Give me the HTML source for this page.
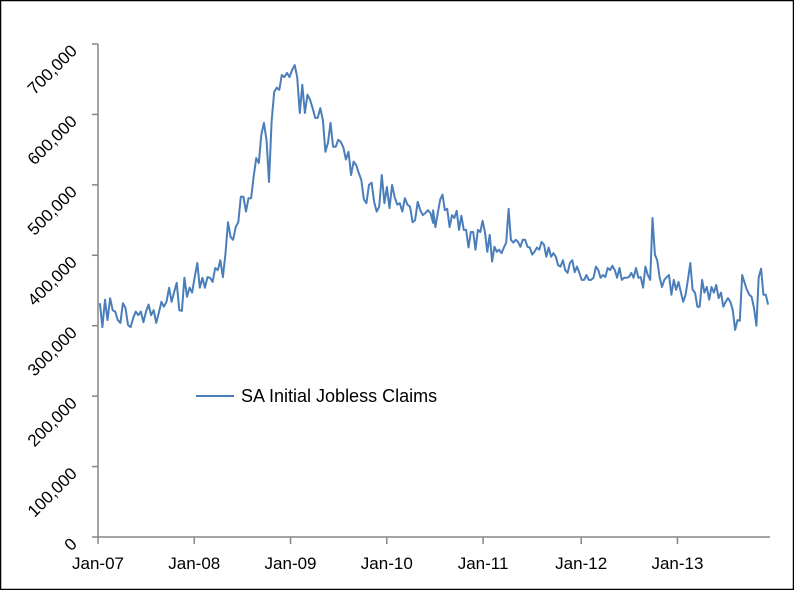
<!DOCTYPE html>
<html><head><meta charset="utf-8"><style>
html,body{margin:0;padding:0;background:#fff}
svg{display:block}
text{font-family:"Liberation Sans",sans-serif;fill:#000}
</style></head><body>
<svg width="794" height="590" viewBox="0 0 794 590">
<rect x="0.5" y="0.5" width="793" height="589" fill="#fff" stroke="#000" stroke-width="1.5"/>
<g id="axes"></g>
<path id="series" fill="none" stroke="#4a7ebb" stroke-width="2" stroke-linejoin="round"/>
<g>
<line x1="196" y1="396" x2="234" y2="396" stroke="#4a7ebb" stroke-width="2"/>
<text x="241" y="402" font-size="18">SA Initial Jobless Claims</text>
</g>
</svg>
<script>
const yTicks=[0,100000,200000,300000,400000,500000,600000,700000];
const yTickLabels=["0","100,000","200,000","300,000","400,000","500,000","600,000","700,000"];
const xTickLabels=["Jan-07","Jan-08","Jan-09","Jan-10","Jan-11","Jan-12","Jan-13"];
const xTickWeeks=[0,52,104,156,208,261,313];
const totalWeeks=363;
const segAWeeks=[1,181];
const segBWeeks=[181,362];
const claimsA=[332,298,337,308,339,322,320,308,304,332,325,301,298,311,320,315,320,305,320,330,315,322,304,318,334,327,334,354,334,348,361,322,321,368,341,354,347,369,389,354,368,354,369,368,362,382,379,393,369,403,447,426,422,440,447,483,483,462,481,481,511,538,531,571,588,564,504,590,632,638,635,656,653,659,653,663,670,653,602,642,602,628,621,609,595,595,609,592,547,560,588,554,554,564,561,553,536,547,514,533,528,517,507,479,474,500,503,476,462,469,514,474,497,467,500,483,472,474,462,481,472,469,447,450,476,464,457,460,464,460,446];
const claimsB=[464,440,460,479,486,464,466,440,457,453,463,436,456,436,436,411,433,433,408,436,433,449,432,405,429,391,412,405,408,403,411,418,466,422,418,422,419,412,422,422,412,411,401,405,411,408,419,415,398,411,398,403,398,386,384,393,379,375,389,393,376,384,375,365,365,372,365,365,368,384,379,368,372,369,382,379,385,379,368,382,365,368,368,369,375,368,382,368,369,354,384,372,365,453,401,393,369,355,365,369,372,344,365,351,362,348,334,344,365,389,351,347,327,327,365,347,355,337,355,347,358,339,347,327,334,339,334,322,294,308,307,372,361,351,344,341,325,300,369,381,344,344,330];
const X0=98,X1=770,Y0=537,Y1=44;
const xScale=w=>X0+(w/totalWeeks)*(X1-X0);
const yScale=v=>Y0-(v/700000)*(Y0-Y1);
const ns="http://www.w3.org/2000/svg";
const axes=document.getElementById('axes');
function mk(tag,attrs){const e=document.createElementNS(ns,tag);for(const k in attrs)e.setAttribute(k,attrs[k]);axes.appendChild(e);return e;}
let e=mk('line',{x1:X0,y1:Y1,x2:X0,y2:Y0,stroke:'#868686','stroke-width':1.5});


e=mk('line',{x1:X0,y1:Y0,x2:X1,y2:Y0,stroke:'#868686','stroke-width':1.5});


yTicks.forEach((v,i)=>{const y=yScale(v);
 let t=mk('line',{x1:X0-6,y1:y,x2:X0,y2:y,stroke:'#868686','stroke-width':1.5});
 
 
 let l=mk('text',{x:78,y:y+8,'font-size':17,'text-anchor':'end',transform:`rotate(-45 78 ${y+8})`});
 l.textContent=yTickLabels[i];
 
 
});
xTickWeeks.forEach((w,i)=>{const x=xScale(w);
 let t=mk('line',{x1:x,y1:Y0,x2:x,y2:Y0+7,stroke:'#868686','stroke-width':1.5});
 
 
 let l=mk('text',{x:x,y:569,'font-size':17,'text-anchor':'middle'});
 l.textContent=xTickLabels[i];
 
 
});
let d='';
function seg(arr,wk,first){const n=arr.length;arr.forEach((v,i)=>{const w=wk[0]+i*(wk[1]-wk[0])/(n-1);d+=((first&&i===0)?'M':'L')+xScale(w).toFixed(1)+','+yScale(v*1000).toFixed(1);});}
seg(claimsA,segAWeeks,true);
seg(claimsB,segBWeeks,false);
document.getElementById('series').setAttribute('d',d);
</script>
</body></html>
